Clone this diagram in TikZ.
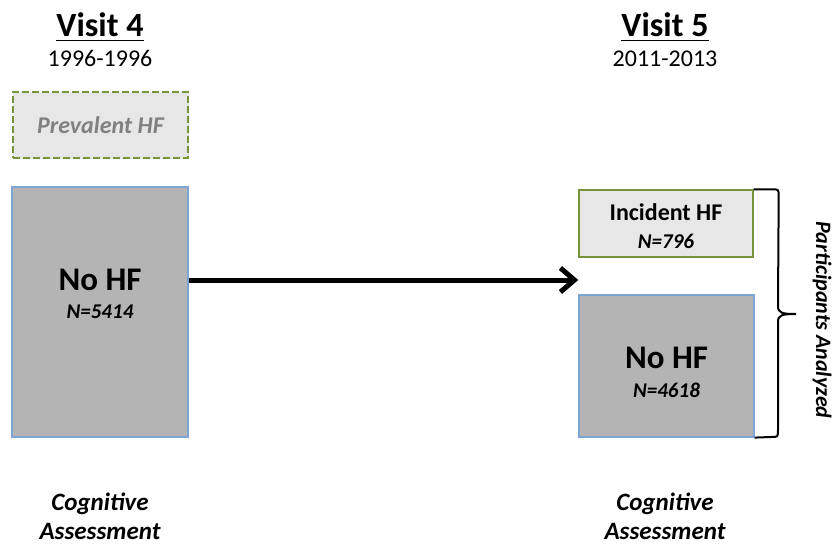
\documentclass[tikz,border=0pt]{standalone}
\usepackage{fontspec}
\setmainfont{Carlito}
\usetikzlibrary{arrows.meta,positioning,shadows}
\definecolor{boxgray}{RGB}{180,180,180}
\definecolor{palegray}{RGB}{231,231,231}
\definecolor{edgeblue}{RGB}{124,165,214}
\definecolor{edgegreen}{RGB}{119,147,60}
\definecolor{textgray}{RGB}{128,128,128}
\begin{document}
\begin{tikzpicture}[x=0.5pt,y=-0.5pt,
  visit/.style={font=\fontsize{17}{20}\selectfont\bfseries,anchor=base},
  years/.style={font=\fontsize{12}{14}\selectfont,anchor=base},
  hfbox/.style={draw=edgeblue,fill=boxgray,line width=0.6pt,inner sep=0pt,
    drop shadow={opacity=0.25,shadow xshift=0.7pt,shadow yshift=-0.7pt}},
  lightbox/.style={draw=edgegreen,fill=palegray,line width=0.7pt,inner sep=0pt,
    drop shadow={opacity=0.25,shadow xshift=0.7pt,shadow yshift=-0.7pt}},
  big/.style={font=\fontsize{16.5}{18}\selectfont\bfseries},
  mid/.style={font=\fontsize{12}{14}\selectfont\bfseries},
  count/.style={font=\fontsize{10.5}{12}\selectfont\bfseries\itshape},
  assess/.style={font=\fontsize{12.5}{14.5}\selectfont\bfseries\itshape,align=center,
    anchor=north,inner sep=0pt},
  flowarrow/.style={line width=2.5pt,-{Straight Barb[length=7pt,width=12pt]}},
  bracket/.style={line width=1pt}]
  \useasboundingbox (0,0) rectangle (832,546);
  \node[visit] (v4) at (100,37) {\underline{Visit 4}};
  \node[years] (y4) at (100,67) {1996-1996};
  \node[visit] (v5) at (665,37) {\underline{Visit 5}};
  \node[years] (y5) at (665,67) {2011-2013};
  \node[lightbox,dashed,dash pattern=on 3.5pt off 1.5pt,line width=0.8pt,minimum width=87.5pt,
    minimum height=33pt,font=\fontsize{12}{14}\selectfont\bfseries\itshape,text=textgray]
    (prev) at (100.5,125) {Prevalent HF};
  \node[hfbox,minimum width=88pt,minimum height=125pt] (nohfL) at (100,312) {};
  \node[big] (titleL) at (100,280) {No HF};
  \node[count] (countL) at (100,311.5) {N=5414};
  \node[lightbox,minimum width=87pt,minimum height=33.5pt] (incHF) at (666,223.5) {};
  \node[mid] (titleI) at (666,212.5) {Incident HF};
  \node[count] (countI) at (666,241) {N=796};
  \node[hfbox,minimum width=87.5pt,minimum height=71pt] (nohfR) at (666.5,366) {};
  \node[big] (titleR) at (666.5,357.5) {No HF};
  \node[count] (countR) at (666.5,390) {N=4618};
  \draw[flowarrow] (titleL -| nohfL.east) -- (titleL -| incHF.west);
  \coordinate (btip) at (796,314);
  \draw[bracket] (incHF.north east) -- ++(18,0) .. controls +(7,0) .. ++(7,7)
    -- (778,306) .. controls (778,313) and (782,314) .. (btip)
    .. controls (782,314) and (778,315) .. (778,322)
    -- (778,430) .. controls (778,437) .. (771,437) -- (nohfR.south east);
  \node[rotate=-90,font=\fontsize{11}{12}\selectfont\bfseries\itshape] (part) at (822,320) {Participants Analyzed};
  \node[assess] (cogL) at (100,493) {Cognitive\\Assessment};
  \node[assess] (cogR) at (665,493) {Cognitive\\Assessment};
\end{tikzpicture}
\end{document}
